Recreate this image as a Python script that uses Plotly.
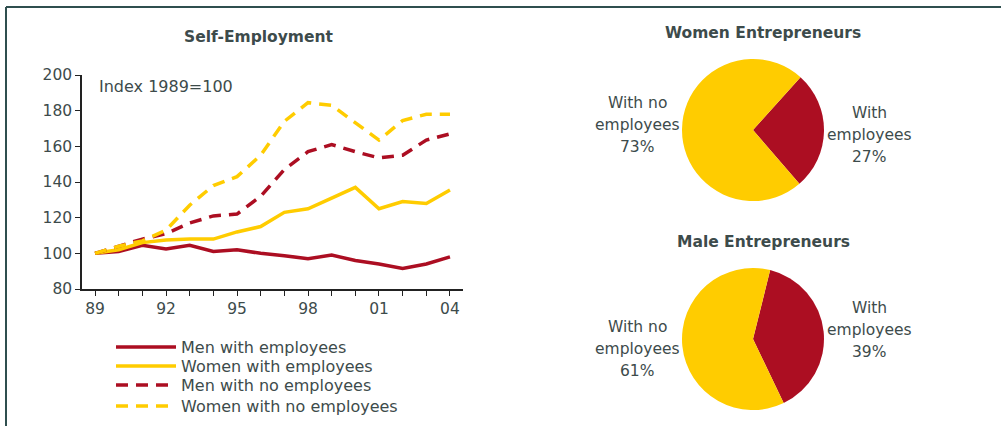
import plotly.graph_objects as go

years = list(range(1989, 2005))
men_with_emp = [100, 101, 104.5, 102.5, 104.5, 101, 102, 100, 98.7, 97, 99, 96, 94, 91.5, 94, 98]
women_with_emp = [100, 102, 106, 107.5, 108, 108, 112, 115, 123, 125, 131, 137, 125, 129, 128, 135.5]
men_no_emp = [100, 104, 108, 111, 117, 121, 122, 132, 147, 157, 161, 157, 153.5, 155, 163.5, 167]
women_no_emp = [100, 104, 107, 113, 127, 138, 143, 155, 174, 184.5, 183, 173, 163.5, 174.5, 178, 178]
tick_labels = {1989: "89", 1992: "92", 1995: "95", 1998: "98", 2001: "01", 2004: "04"}

pie_with = ["With", "employees"]
pie_without = ["With no", "employees"]
women_pie = [27, 73]
male_pie = [39, 61]

RED = "#AC0E22"
YEL = "#FFCC00"
TXT = "#3d4b4b"
FONT = "DejaVu Sans"
FS = 15.5

fig = go.Figure()
series = [
    ("Men with employees", men_with_emp, RED, "solid"),
    ("Women with employees", women_with_emp, YEL, "solid"),
    ("Men with no employees", men_no_emp, RED, "12px,8px"),
    ("Women with no employees", women_no_emp, YEL, "12px,8px"),
]
legend_rows = [347, 366, 385, 406]
legend_names = ["legend", "legend2", "legend3", "legend4"]
for (name, vals, col, dash), lg in zip(series, legend_names):
    fig.add_trace(go.Scatter(x=years, y=vals, name=name, mode="lines", legend=lg,
                             line=dict(color=col, width=3.5, dash=dash)))

fig.add_trace(go.Pie(values=women_pie, labels=["W1", "W2"], sort=False, direction="clockwise",
                     rotation=42, marker=dict(colors=[RED, YEL]), textinfo="none",
                     domain=dict(x=[682/1001, 824/1001], y=[1-201/426, 1-59/426]),
                     showlegend=False, hoverinfo="skip"))
fig.add_trace(go.Pie(values=male_pie, labels=["M1", "M2"], sort=False, direction="clockwise",
                     rotation=14, marker=dict(colors=[RED, YEL]), textinfo="none",
                     domain=dict(x=[682/1001, 824/1001], y=[1-410/426, 1-268/426]),
                     showlegend=False, hoverinfo="skip"))

ann = []
def add_text(x, y, text, size=FS, bold=False, xanchor="center"):
    ann.append(dict(x=x/1001, y=1-y/426, xref="paper", yref="paper",
                    text=f"<b>{text}</b>" if bold else text, xanchor=xanchor, yanchor="middle",
                    showarrow=False, font=dict(family=FONT, size=size, color=TXT), align="center"))

def add_lines(x, y0, lines, step=22):
    for i, t in enumerate(lines):
        add_text(x, y0 + i*step, t)

add_text(258, 37, "Self-Employment", 15.5, True)
add_text(763, 33, "Women Entrepreneurs", 15.5, True)
add_text(763, 242, "Male Entrepreneurs", 15.5, True)
add_text(97, 86, "Index 1989=100", 16, xanchor="left")
add_lines(637, 103, pie_without + [f"{women_pie[1]}%"])
add_lines(869, 113, pie_with + [f"{women_pie[0]}%"])
add_lines(637, 327, pie_without + [f"{male_pie[1]}%"])
add_lines(869, 308, pie_with + [f"{male_pie[0]}%"])

legends = {}
for lg, yr in zip(legend_names, legend_rows):
    legends[lg] = dict(x=111/1001, y=1-yr/426, xanchor="left", yanchor="middle", bgcolor="rgba(0,0,0,0)",
                       font=dict(family=FONT, size=16, color=TXT), itemwidth=60)

fig.update_layout(
    width=1001, height=426, margin=dict(l=0, r=0, t=0, b=0, autoexpand=False),
    paper_bgcolor="white", plot_bgcolor="white",
    font=dict(family=FONT, size=FS, color=TXT),
    annotations=ann,
    xaxis=dict(domain=[82/1001, 463/1001], range=[1988.45, 2004.55],
               tickvals=years, ticktext=[tick_labels.get(y, "") for y in years],
               ticks="outside", ticklen=5, tickcolor="#222", showline=True, linecolor="#222", linewidth=1.5,
               showgrid=False, zeroline=False, tickfont=dict(size=FS, color=TXT)),
    yaxis=dict(domain=[1-289/426, 1-75/426], range=[80, 200], dtick=20,
               ticks="outside", ticklen=5, tickcolor="#222", showline=True, linecolor="#222", linewidth=1.5,
               showgrid=False, zeroline=False, tickfont=dict(size=FS, color=TXT)),
    shapes=[
        dict(type="line", xref="paper", yref="paper", x0=6/1001, x1=6/1001, y0=0, y1=1-7/426,
             line=dict(color="#2f4f4f", width=2)),
        dict(type="line", xref="paper", yref="paper", x0=6/1001, x1=1, y0=1-7/426, y1=1-7/426,
             line=dict(color="#2f4f4f", width=2)),
    ],
    **legends,
)
fig.write_html("out.html")
